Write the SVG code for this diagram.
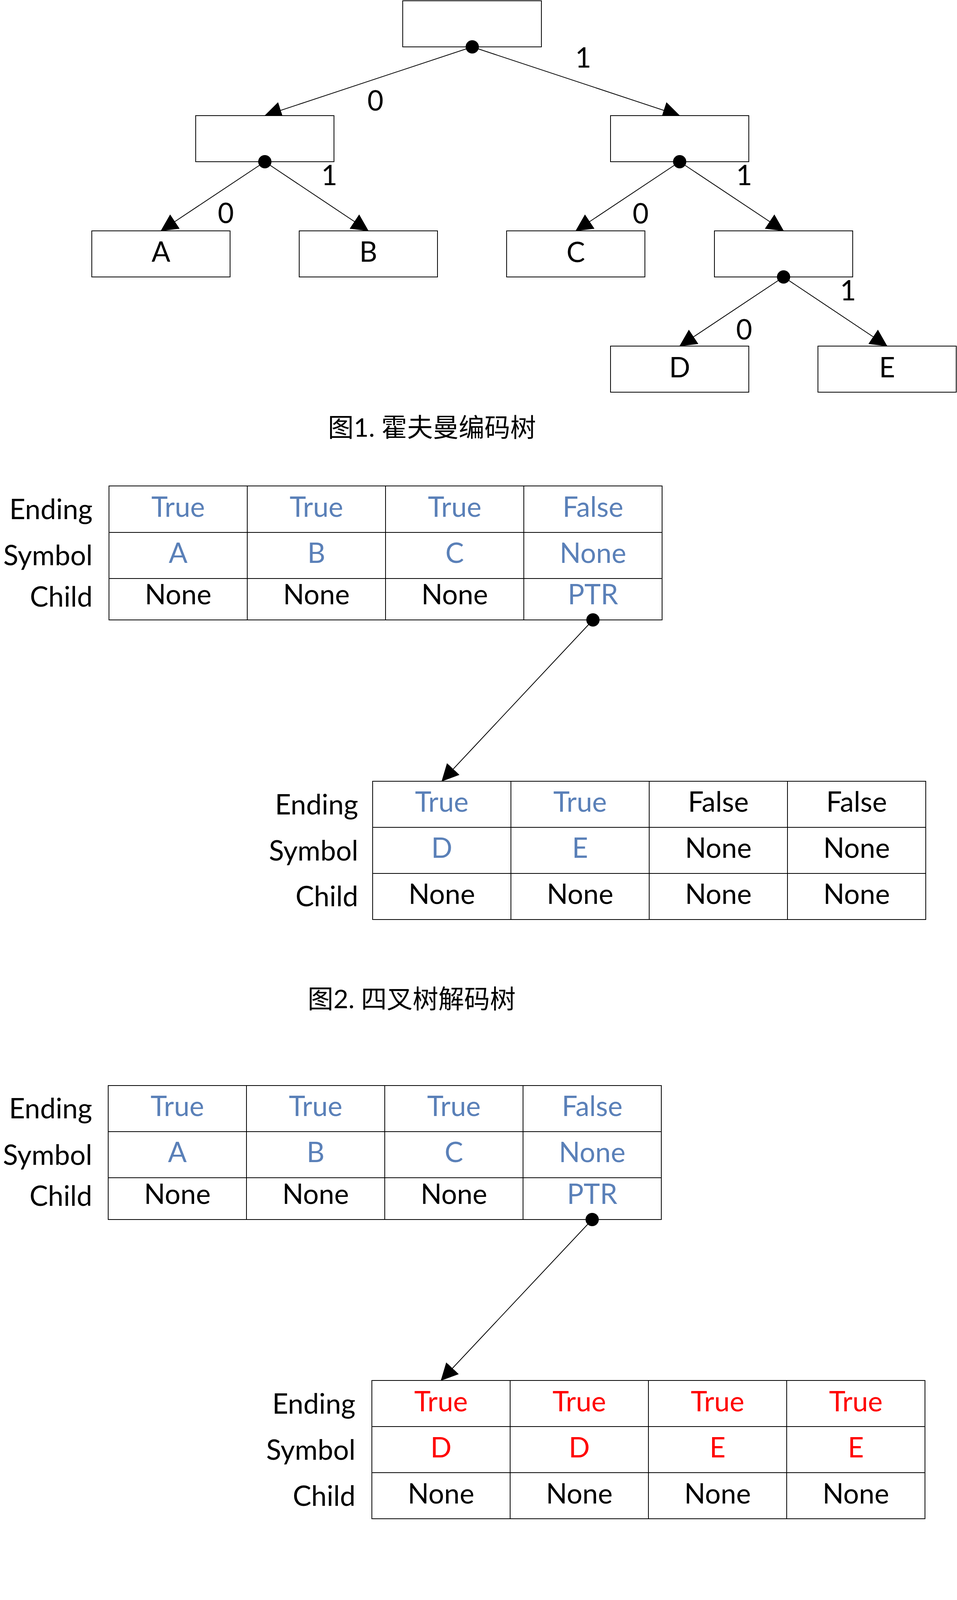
<svg xmlns="http://www.w3.org/2000/svg" width="2450" height="4206" viewBox="0 0 2450 4206">
<style>
.bx{fill:#fff;stroke:#000;stroke-width:2}
.tl{fill:none;stroke:#000;stroke-width:2}
.t{font-family:Lato,"Noto Sans","Noto Sans CJK SC",sans-serif;font-size:71px;fill:#000}
.m{text-anchor:middle}
.e{text-anchor:end}
.b{fill:#5A80B8}
.r{fill:#FF0000}
.cap{font-family:Lato,"Noto Sans CJK SC",sans-serif;font-size:66px;text-anchor:middle;fill:#000}
.con{stroke:#000;stroke-width:2;fill:none;marker-end:url(#ah)}
.dot{fill:#000}
</style>
<defs>
<marker id="ah" markerUnits="userSpaceOnUse" markerWidth="44" markerHeight="44" viewBox="0 0 44 44" refX="43" refY="22" orient="auto"><path d="M0,0 L44,22 L0,44 z" fill="#000"/></marker>
</defs>
<rect width="2450" height="4206" fill="#fff"/>

<g id="connectors">
<line class="con" x1="1209" y1="120" x2="678" y2="296"/>
<line class="con" x1="1209" y1="120" x2="1740" y2="296"/>
<line class="con" x1="678" y1="414" x2="412" y2="591"/>
<line class="con" x1="678" y1="414" x2="943" y2="591"/>
<line class="con" x1="1740" y1="414" x2="1474" y2="591"/>
<line class="con" x1="1740" y1="414" x2="2006" y2="591"/>
<line class="con" x1="2006" y1="709" x2="1740" y2="886"/>
<line class="con" x1="2006" y1="709" x2="2271" y2="886"/>
<line class="con" x1="1518" y1="1587" x2="1131" y2="2000"/>
<line class="con" x1="1516" y1="3122" x2="1129" y2="3534"/>
<g class="t m">
<text x="961" y="283">0</text>
<text x="1493" y="173">1</text>
<text x="578" y="571">0</text>
<text x="843" y="474">1</text>
<text x="1640" y="572">0</text>
<text x="1905" y="474">1</text>
<text x="1905" y="869">0</text>
<text x="2171" y="769">1</text>
</g>
</g>

<g id="root"><rect class="bx" x="1031" y="2" width="355" height="118"/><circle class="dot" cx="1209" cy="120" r="17"/></g>
<g id="n0"><rect class="bx" x="501" y="296" width="354" height="118"/><circle class="dot" cx="678" cy="414" r="17"/></g>
<g id="n1"><rect class="bx" x="1563" y="296" width="354" height="118"/><circle class="dot" cx="1740" cy="414" r="17"/></g>
<g id="nA"><rect class="bx" x="235" y="591" width="354" height="118"/><text class="t m" x="412" y="670">A</text></g>
<g id="nB"><rect class="bx" x="766" y="591" width="354" height="118"/><text class="t m" x="943" y="670">B</text></g>
<g id="nC"><rect class="bx" x="1297" y="591" width="354" height="118"/><text class="t m" x="1474" y="671">C</text></g>
<g id="n11"><rect class="bx" x="1829" y="591" width="354" height="118"/><circle class="dot" cx="2006" cy="709" r="17"/></g>
<g id="nD"><rect class="bx" x="1563" y="886" width="354" height="118"/><text class="t m" x="1740" y="966">D</text></g>
<g id="nE"><rect class="bx" x="2094" y="886" width="354" height="118"/><text class="t m" x="2271" y="966">E</text></g>
<text id="caption1" class="cap" x="1106" y="1118">图1. 霍夫曼编码树</text>

<g id="table1">
<rect class="tl" x="279" y="1244" width="1416" height="343"/>
<path class="tl" d="M279,1363H1695M279,1481H1695M633,1244V1587M987,1244V1587M1341,1244V1587"/>
<g class="t e"><text x="237" y="1329">Ending</text><text x="237" y="1447">Symbol</text><text x="237" y="1553">Child</text></g>
<g class="t m">
<text class="b" x="456" y="1323">True</text><text class="b" x="810" y="1323">True</text><text class="b" x="1164" y="1323">True</text><text class="b" x="1518" y="1323">False</text>
<text class="b" x="456" y="1441">A</text><text class="b" x="810" y="1441">B</text><text class="b" x="1164" y="1441">C</text><text class="b" x="1518" y="1441">None</text>
<text x="456" y="1547">None</text><text x="810" y="1547">None</text><text x="1164" y="1547">None</text><text class="b" x="1518" y="1547">PTR</text>
</g>
<circle class="dot" cx="1518" cy="1587" r="17"/>
</g>

<g id="table2">
<rect class="tl" x="954" y="2000" width="1416" height="354"/>
<path class="tl" d="M954,2118H2370M954,2236H2370M1308,2000V2354M1662,2000V2354M2016,2000V2354"/>
<g class="t e"><text x="917" y="2085">Ending</text><text x="917" y="2203">Symbol</text><text x="917" y="2320">Child</text></g>
<g class="t m">
<text class="b" x="1131" y="2078">True</text><text class="b" x="1485" y="2078">True</text><text x="1839" y="2078">False</text><text x="2193" y="2078">False</text>
<text class="b" x="1131" y="2196">D</text><text class="b" x="1485" y="2196">E</text><text x="1839" y="2196">None</text><text x="2193" y="2196">None</text>
<text x="1131" y="2314">None</text><text x="1485" y="2314">None</text><text x="1839" y="2314">None</text><text x="2193" y="2314">None</text>
</g>
</g>
<text id="caption2" class="cap" x="1054" y="2581">图2. 四叉树解码树</text>

<g id="table3">
<rect class="tl" x="277" y="2779" width="1416" height="343"/>
<path class="tl" d="M277,2897H1693M277,3015H1693M631,2779V3122M985,2779V3122M1339,2779V3122"/>
<g class="t e"><text x="236" y="2863">Ending</text><text x="236" y="2982">Symbol</text><text x="236" y="3087">Child</text></g>
<g class="t m">
<text class="b" x="454" y="2857">True</text><text class="b" x="808" y="2857">True</text><text class="b" x="1162" y="2857">True</text><text class="b" x="1516" y="2857">False</text>
<text class="b" x="454" y="2975">A</text><text class="b" x="808" y="2975">B</text><text class="b" x="1162" y="2975">C</text><text class="b" x="1516" y="2975">None</text>
<text x="454" y="3082">None</text><text x="808" y="3082">None</text><text x="1162" y="3082">None</text><text class="b" x="1516" y="3082">PTR</text>
</g>
<circle class="dot" cx="1516" cy="3122" r="17"/>
</g>

<g id="table4">
<rect class="tl" x="952" y="3534" width="1416" height="354"/>
<path class="tl" d="M952,3652H2368M952,3770H2368M1306,3534V3888M1660,3534V3888M2014,3534V3888"/>
<g class="t e"><text x="910" y="3619">Ending</text><text x="910" y="3737">Symbol</text><text x="910" y="3855">Child</text></g>
<g class="t m">
<text class="r" x="1129" y="3613">True</text><text class="r" x="1483" y="3613">True</text><text class="r" x="1837" y="3613">True</text><text class="r" x="2191" y="3613">True</text>
<text class="r" x="1129" y="3731">D</text><text class="r" x="1483" y="3731">D</text><text class="r" x="1837" y="3731">E</text><text class="r" x="2191" y="3731">E</text>
<text x="1129" y="3849">None</text><text x="1483" y="3849">None</text><text x="1837" y="3849">None</text><text x="2191" y="3849">None</text>
</g>
</g>
<text id="caption3" class="cap" x="1131" y="4185">图3. 正确的四叉解码树</text>
</svg>
